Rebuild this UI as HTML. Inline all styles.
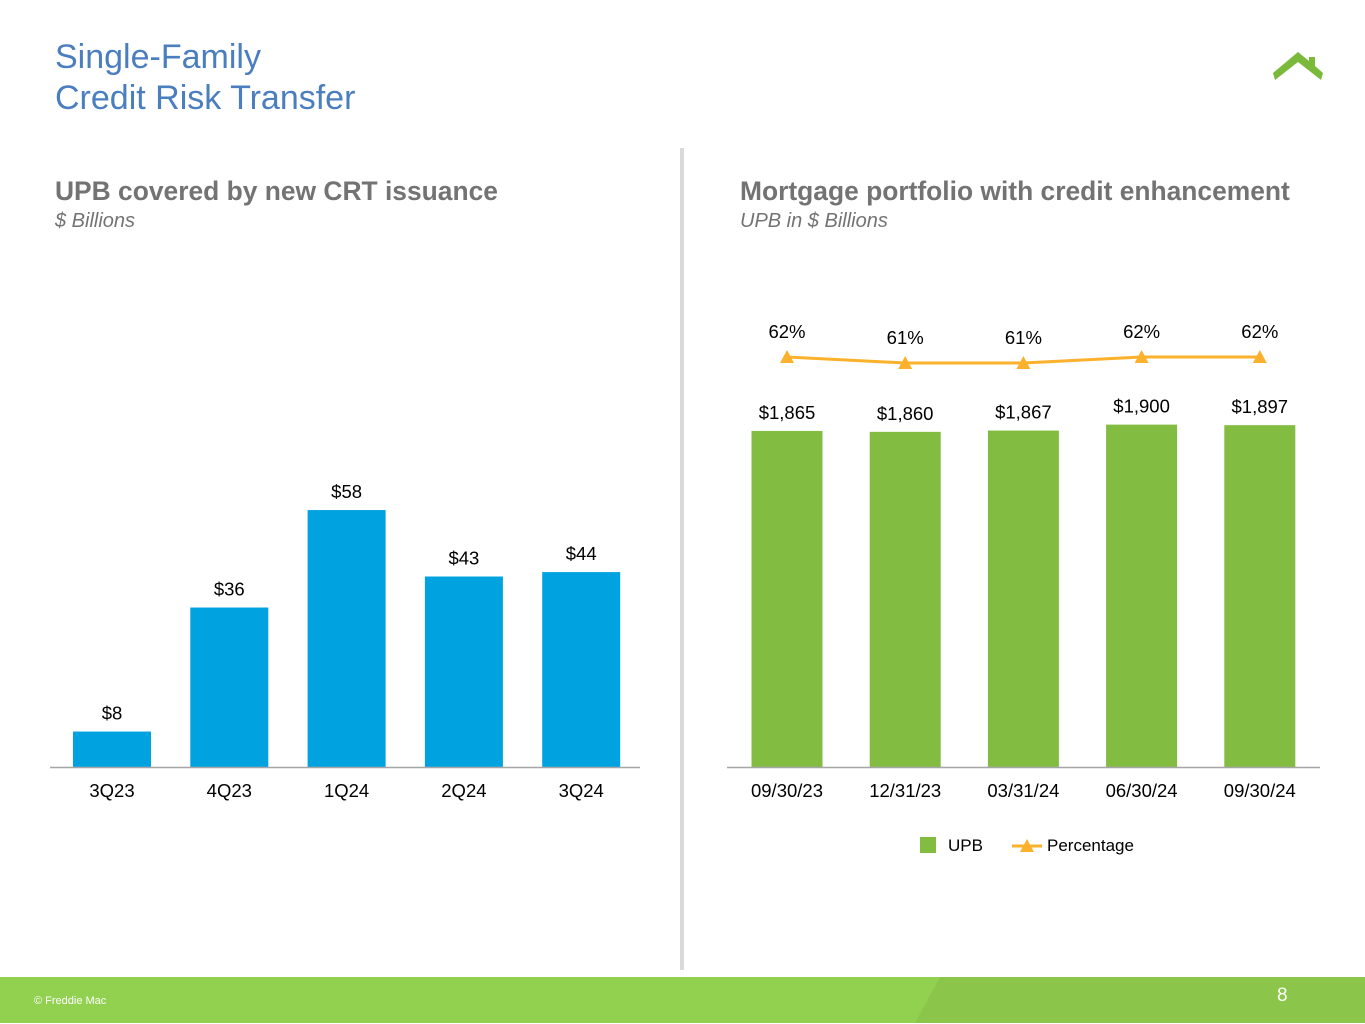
<!DOCTYPE html>
<html><head><meta charset="utf-8"><style>
body{margin:0;width:1365px;height:1024px;position:relative;background:#fff;font-family:"Liberation Sans",sans-serif;overflow:hidden}
.t{position:absolute;white-space:nowrap}
</style></head><body>
<div class="t" style="left:55px;top:37px;font-size:34px;line-height:41px;color:#4a7ebf">Single-Family<br>Credit Risk Transfer</div>
<svg style="position:absolute;left:1272px;top:52px" width="54" height="30"><polygon points="3,28 26,10 49,28 51,21 43,14 43,5 37,5 37,9 26,0 1,21" fill="#7ab93a"/></svg>
<div style="position:absolute;left:680px;top:148px;width:4px;height:822px;background:#d9d9d9"></div>
<div class="t" style="left:55px;top:176px;font-size:26.4px;font-weight:bold;color:#737373">UPB covered by new CRT issuance</div>
<div class="t" style="left:55px;top:210px;font-size:20px;font-style:italic;color:#737373">$ Billions</div>
<div class="t" style="left:740px;top:176px;font-size:26.4px;font-weight:bold;color:#737373">Mortgage portfolio with credit enhancement</div>
<div class="t" style="left:740px;top:210px;font-size:20px;font-style:italic;color:#737373">UPB in $ Billions</div>
<svg id="c" width="1365" height="1024" style="position:absolute;left:0;top:0" font-family="Liberation Sans, sans-serif"></svg>
<div style="position:absolute;left:0;top:977px;width:1365px;height:46px;background:#92d050"></div>
<svg style="position:absolute;left:0;top:977px" width="1365" height="46"><polygon points="940,0 1365,0 1365,46 915,46" fill="#8bc64a"/></svg>
<div class="t" style="left:34px;top:995px;font-size:11px;color:#fff">© Freddie Mac</div>
<div class="t" style="left:1277px;top:985px;font-size:19px;color:#fff">8</div>
<script>
const leftCats=["3Q23","4Q23","1Q24","2Q24","3Q24"];
const leftVals=[8,36,58,43,44];
const leftLabels=["$8","$36","$58","$43","$44"];
const rightCats=["09/30/23","12/31/23","03/31/24","06/30/24","09/30/24"];
const upbVals=[1865,1860,1867,1900,1897];
const upbLabels=["$1,865","$1,860","$1,867","$1,900","$1,897"];
const pctVals=[62,61,61,62,62];
const pctLabels=["62%","61%","61%","62%","62%"];
const svg=document.getElementById('c');const NS="http://www.w3.org/2000/svg";
function mk(t,a,p){const e=document.createElementNS(NS,t);for(const k in a)e.setAttribute(k,a[k]);(p||svg).appendChild(e);return e;}
const base=767;
const lx=i=>112+i*117.3, ly=v=>base-v*4.43;
const rx=i=>787+i*118.2, ry=v=>base-v*0.1802;
const py=p=>357+(62-p)*6;
leftVals.forEach((v,i)=>{
 const r=mk('rect',{x:lx(i)-39,y:ly(v),width:78,height:base-ly(v),fill:'#00a3e0'});
 
 
 const t=mk('text',{x:lx(i),y:ly(v)-12,'text-anchor':'middle','font-size':18.5,fill:'#000'});t.textContent=leftLabels[i];
 
 
 const c=mk('text',{x:lx(i),y:797,'text-anchor':'middle','font-size':18.5,fill:'#000'});c.textContent=leftCats[i];
 
 
});
const la=mk('line',{x1:50,x2:640,y1:base+0.5,y2:base+0.5,stroke:'#a6a6a6','stroke-width':1.5});


upbVals.forEach((v,i)=>{
 const r=mk('rect',{x:rx(i)-35.5,y:ry(v),width:71,height:base-ry(v),fill:'#82bc41'});
 
 
 const t=mk('text',{x:rx(i),y:ry(v)-12,'text-anchor':'middle','font-size':18.5,fill:'#000'});t.textContent=upbLabels[i];
 
 
 const c=mk('text',{x:rx(i),y:797,'text-anchor':'middle','font-size':18.5,fill:'#000'});c.textContent=rightCats[i];
 
 
});
const ra=mk('line',{x1:727,x2:1320,y1:base+0.5,y2:base+0.5,stroke:'#a6a6a6','stroke-width':1.5});


const pl=mk('polyline',{points:pctVals.map((p,i)=>rx(i)+','+py(p)).join(' '),fill:'none',stroke:'#fbb12b','stroke-width':3});


pctVals.forEach((p,i)=>{
 const y=py(p);
 const m=mk('polygon',{points:`${rx(i)-7},${y+6} ${rx(i)+7},${y+6} ${rx(i)},${y-7}`,fill:'#fbb12b'});
 
 
 const t=mk('text',{x:rx(i),y:y-19,'text-anchor':'middle','font-size':18.5,fill:'#000'});t.textContent=pctLabels[i];
 
 
});
const lg=mk('g',{});


mk('rect',{x:920,y:837,width:16,height:16,fill:'#82bc41'},lg);
const lt1=mk('text',{x:948,y:851,'font-size':17,fill:'#000'},lg);lt1.textContent='UPB';
mk('line',{x1:1012,x2:1042,y1:846,y2:846,stroke:'#fbb12b','stroke-width':3},lg);
mk('polygon',{points:'1020,852 1034,852 1027,839',fill:'#fbb12b'},lg);
const lt2=mk('text',{x:1047,y:851,'font-size':17,fill:'#000'},lg);lt2.textContent='Percentage';
</script>
</body></html>
